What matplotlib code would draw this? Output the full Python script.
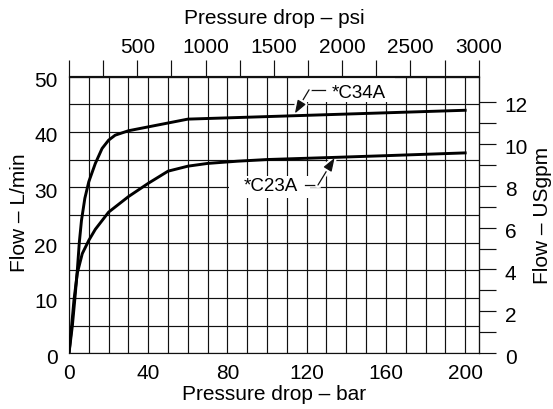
import matplotlib
matplotlib.use('Agg')
import matplotlib.pyplot as plt
import matplotlib.patheffects as pe
import matplotlib.transforms as mtransforms
from matplotlib.patches import Rectangle
import numpy as np

plt.rcParams['font.family'] = ['Liberation Sans', 'DejaVu Sans']

# ---------------- data ----------------
c34a_bar = [0, 1.7, 3, 4.2, 5.2, 6.3, 8, 10, 13.3, 16.7, 20, 23.3, 30, 40, 50, 60, 130, 200]
c34a_lpm = [0, 5, 10, 15, 20, 24, 28, 31, 34.3, 37, 38.5, 39.4, 40.2, 40.9, 41.6, 42.3, 43.1, 43.9]

c23a_bar = [0, 1.3, 2.5, 4.2, 6.7, 10, 13.3, 20, 30, 40, 50, 60, 70, 85, 100, 135, 160, 200]
c23a_lpm = [0, 4.8, 9.6, 14.5, 18, 20.4, 22.4, 25.5, 28.3, 30.7, 32.9, 33.8, 34.3, 34.7, 35.0, 35.4, 35.7, 36.2]

bar_ticks = [0, 40, 80, 120, 160, 200]
lpm_ticks = [0, 10, 20, 30, 40, 50]
psi_ticks = [500, 1000, 1500, 2000, 2500, 3000]
psi_minor = [0, 250, 750, 1250, 1750, 2250, 2750]
gpm_ticks = [0, 2, 4, 6, 8, 10, 12]
gpm_minor = [1, 3, 5, 7, 9, 11]

series_names = ['*C34A', '*C23A']

BAR_PER_PSI = 0.0689476
LPM_PER_GPM = 3.785411784

W, H = 553, 409
fig = plt.figure(figsize=(W / 100, H / 100), dpi=100)
L, R, B, T = 69, 478.7, 353.3, 76.5
ax = fig.add_axes([L / W, 1 - B / H, (R - L) / W, (B - T) / H])

ax.set_xlim(0, 3000 * BAR_PER_PSI)
ax.set_ylim(0, 50)

ink = '#111111'
glw = 0.85
fs = 15

ax.set_xticks(bar_ticks)
ax.set_xticks(np.arange(10, 201, 10), minor=True)
ax.set_yticks(lpm_ticks)
ax.set_yticks(np.arange(5, 50, 5), minor=True)
ax.tick_params(which='both', length=0)
ax.tick_params(axis='x', which='major', pad=7.5, labelsize=fs)
ax.tick_params(axis='y', which='major', pad=8.2, labelsize=fs)
ax.set_axisbelow(True)
ax.grid(which='both', color=ink, lw=glw)
for s in ax.spines.values():
    s.set_color(ink)
    s.set_linewidth(glw)

# top psi axis
sx = ax.secondary_xaxis('top', functions=(lambda b: b / BAR_PER_PSI, lambda p: p * BAR_PER_PSI))
sx.set_xticks(psi_ticks)
sx.set_xticks(psi_minor, minor=True)
sx.tick_params(which='both', direction='out', length=11.5, width=glw, color=ink, pad=2.5, labelsize=fs)
for s in sx.spines.values():
    s.set_color(ink)
    s.set_linewidth(glw)

# right gpm axis
sy = ax.secondary_yaxis('right', functions=(lambda l: l / LPM_PER_GPM, lambda g: g * LPM_PER_GPM))
sy.set_yticks(gpm_ticks)
sy.set_yticks(gpm_minor, minor=True)
sy.tick_params(which='both', direction='out', length=12.2, width=glw, color=ink, pad=6.5, labelsize=fs)
for s in sy.spines.values():
    s.set_color(ink)
    s.set_linewidth(glw)

# shift y labels slightly downward
off = mtransforms.ScaledTranslation(0, -3 / 100, fig.dpi_scale_trans)
for lab in ax.get_yticklabels() + sy.get_yticklabels():
    lab.set_transform(lab.get_transform() + off)

# curves
ax.plot(c34a_bar, c34a_lpm, color='black', lw=2.1, zorder=4, solid_joinstyle='round')
ax.plot(c23a_bar, c23a_lpm, color='black', lw=2.1, zorder=4, solid_joinstyle='round')

# label boxes (white masks over grid)
ax.add_patch(Rectangle((116.5, 45.4), 48, 4.6, fc='white', ec='none', zorder=1.2))
ax.add_patch(Rectangle((80.7, 28.1), 40.8, 3.9, fc='white', ec='none', zorder=1.2))

halo = [pe.withStroke(linewidth=4, foreground='white')]
ax.text(132.5, 47.0, series_names[0], ha='left', va='center', fontsize=13.5, zorder=2)
ax.text(115.5, 30.1, series_names[1], ha='right', va='center', fontsize=13.5, zorder=2)

# leaders
ax.plot([121.2, 129.1], [47.6, 47.6], color=ink, lw=0.9, zorder=2.5, path_effects=halo)
ax.annotate('', xy=(114.0, 43.3), xytext=(121.2, 47.6),
            arrowprops=dict(arrowstyle='-|>,head_length=0.8,head_width=0.28', color=ink, lw=0.9,
                            shrinkA=0, shrinkB=0, mutation_scale=10, path_effects=halo), zorder=2.5)
ax.plot([119.0, 125.7], [30.4, 30.4], color=ink, lw=0.9, zorder=2.5, path_effects=halo)
ax.annotate('', xy=(134.1, 35.3), xytext=(125.7, 30.4),
            arrowprops=dict(arrowstyle='-|>,head_length=0.8,head_width=0.28', color=ink, lw=0.9,
                            shrinkA=0, shrinkB=0, mutation_scale=10, path_effects=halo), zorder=2.5)

# axis titles
fig.text(274 / W, 1 - 395 / H, 'Pressure drop – bar', ha='center', va='center', fontsize=fs)
fig.text(274 / W, 1 - 18 / H, 'Pressure drop – psi', ha='center', va='center', fontsize=fs)
fig.text(20 / W, 1 - 213 / H, 'Flow – L/min', ha='center', va='center', rotation=90, fontsize=fs)
fig.text(542 / W, 1 - 215 / H, 'Flow – USgpm', ha='center', va='center', rotation=90, fontsize=fs)

fig.savefig('out.png', dpi=100, facecolor='white')
